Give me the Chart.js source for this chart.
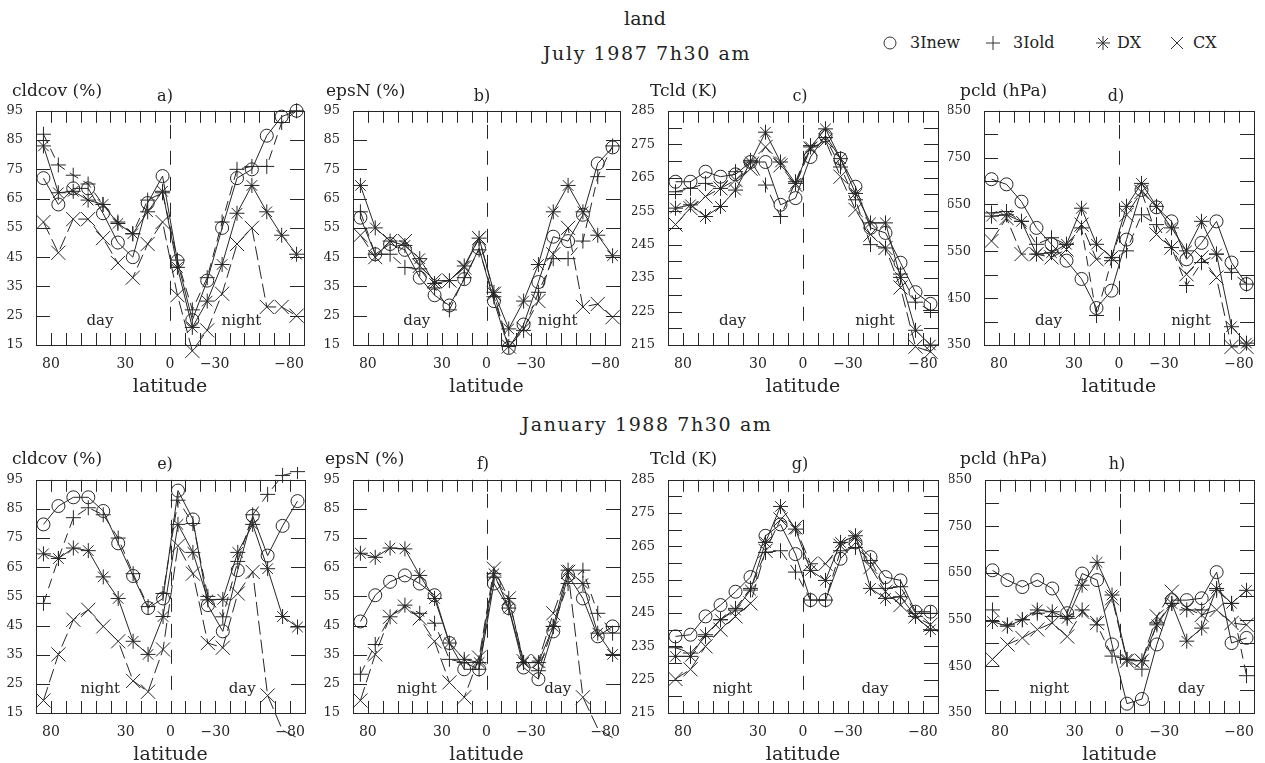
<!DOCTYPE html>
<html><head><meta charset="utf-8">
<script src="https://cdn.jsdelivr.net/npm/chart.js@4.4.0/dist/chart.umd.min.js"></script>
<style>
html,body{margin:0;padding:0;background:#fff;}
body{width:1265px;height:763px;overflow:hidden;position:relative;font-family:'DejaVu Serif',serif;color:#222;}
canvas{position:absolute;}
.t{position:absolute;white-space:nowrap;line-height:1;transform:translateY(-50%);}
.c{transform:translate(-50%,-50%);}
svg.sym{position:absolute;overflow:visible;}
</style></head><body>
<script>
// ---------------- data ----------------
const latitudes = [85,75,65,55,45,35,25,15,5,-5,-15,-25,-35,-45,-55,-65,-75,-85];
const xTickLabels = [80,30,0,-30,-80];
const seriesNames = ['3Inew','3Iold','DX','CX'];
const pctTicks = [15,25,35,45,55,65,75,85,95];
const tempTicks = [215,225,235,245,255,265,275,285];
const presTicks = [350,450,550,650,750,850];

// a) July 1987 cldcov (%)
const a3Inew = [72,63,68.5,68.5,60,50,45,63.5,72.7,43.7,23.5,37,55,72,75,86.5,93,95];
const a3Iold = [87,76.5,73,70,63,57,53,64.5,67,44,27,38,57,75,76,76,91,95];
const aDX    = [83,67,67.5,64.5,63,56.5,53,60.5,67.5,41.5,21,30,42.5,60,69.5,60.5,52.5,46];
const aCX    = [57,46.5,58,58,51.5,43,38,49.5,57,32,13,20,32.5,49.5,55,28,28,25];
// b) July 1987 epsN (%)
const b3Inew = [58.5,46,49.5,47.5,38,32,28.5,37.5,48,30,14,22,36.5,52,50.5,59.5,77,82.5];
const b3Iold = [60.5,46,46,41.5,41,34.5,27,38,47.5,31.5,14.5,20,33,44.5,44.5,50.5,72.5,83];
const bDX    = [69.5,55,50.5,49,44.5,36,37,42,51.5,33,20.5,30,42.5,60.5,69.5,60.5,52.5,45.5];
const bCX    = [52.5,45,50.5,50.5,42,37,37,41.5,51.5,32.5,14.5,20.5,30,46,55,28,29,24.5];
// c) July 1987 Tcld (K)
const c3Inew = [263.8,263.8,266.8,265.3,266,269.7,269.7,256.9,258.9,271.2,277.6,270.7,262.3,250,248.5,239.6,230.8,227.3];
const c3Iold = [260.8,261.8,263.3,261.8,266.8,270.2,262.8,253.4,263.8,274.6,277,268.2,258.4,245,244,236.2,227.8,225.3];
const cDX    = [255.9,256.9,253.4,256.4,261.3,269.7,278.6,269.7,263.3,274.2,279.6,270.7,260.3,251.5,251.5,235.2,219.4,215];
const cCX    = [251,255.9,259.4,261.8,264.3,267.7,274.2,268.7,262.8,273.7,276.1,265.3,255.4,248,244,232.2,214.5,213];
// d) July 1987 pcld (hPa)
const d3Inew = [704,693,656,600,565,530,491,429,466,575,681,644,614,533,568,614,526,480];
const d3Iold = [632,635,614,565,579,565,600,413,530,551,628,607,558,477,526,544,505,480];
const dDX    = [625,628,614,544,547,565,642,565,537,646,695,646,600,551,614,544,389,354];
const dCX    = [572,621,544,544,537,554,607,533,537,628,677,586,558,501,537,494,346,346];
// e) January 1988 cldcov (%)
const e3Inew = [79.7,86,89,89,84.3,73.2,62,51,54.3,91.3,81.4,52,43,64,82.6,69,79.2,87.7];
const e3Iold = [52.6,68,82,85.4,83,75,62.8,51.5,56,88,80,55,48,67,83,90,96.5,97.8];
const eDX    = [69.6,68,71.6,70.7,61.7,54.3,39.6,35.1,48.1,79.7,70.1,53.8,54,70.1,79.7,64.5,48.1,44.5];
const eCX    = [19.3,35.1,47,50.4,44.7,39.6,26,22.3,36.8,72.4,62.8,39,37.4,56,63.4,21,9,6.5];
// f) January 1988 epsN (%)
const f3Inew = [46.4,55.4,60,62.2,59.4,55.4,39,30,30,59.4,51,30.6,26.6,43,62.2,54.3,41.3,44.7];
const f3Iold = [28.3,38.5,48,52,49.2,45.8,33.4,32.3,30,61.6,54.3,32.3,29.5,44.7,59.4,64,49.2,42.4];
const fDX    = [69.8,68.4,71.6,71.3,62.2,54.3,39,33.4,32.3,62.8,51,32.3,32.3,44.7,64,59.4,42.4,35.1];
const fCX    = [19.3,35.1,48,51.5,47.5,39.6,25.5,20.4,34,64.5,54.3,32.8,32.8,49.2,63.4,20.4,9.7,6.5];
// g) January 1988 Tcld (K)
const g3Inew = [238,238.5,244,247.4,251.4,255.8,268.2,271.6,262.7,248.9,248.9,261.3,266.2,261.8,255.8,254.8,245.4,245.4];
const g3Iold = [234.6,233,238,243,246.4,252.4,263.2,263.7,257.3,248.9,248.9,263.7,264.7,260.8,252.4,252.9,244.9,244.9];
const gDX    = [232,232,238.5,243,245.9,251.9,266.2,277,270.2,257.8,254.8,266.2,268.2,252.4,249.4,249.9,244,240];
const gCX    = [225.2,228.1,235,240,244,247.9,263.7,273.1,270.7,259.8,259.8,265.2,267.7,258.8,251.4,247.4,244,241.5];
// h) January 1988 pcld (hPa)
const h3Inew = [656,635,620,635,617,564,649,635,497,370,380,497,592,592,596,652,500,511];
const h3Iold = [571,539,550,564,557,557,571,539,472,465,444,543,585,571,571,613,585,430];
const hDX    = [546,536,550,571,567,553,624,673,603,465,462,539,585,504,532,617,585,613];
const hCX    = [465,497,511,529,543,514,567,543,596,462,462,557,610,575,560,571,543,539];

// ---------------- layout / style ----------------
const FONT = "'DejaVu Serif', serif";
const INK = '#262626';
const styles = [
  {pointStyle:'circle',   pointRadius:6.5, borderDash:[]},
  {pointStyle:'cross',    pointRadius:7.5, borderDash:[10,6]},
  {pointStyle:'star',     pointRadius:7.5, borderDash:[]},
  {pointStyle:'crossRot', pointRadius:10,  borderDash:[14,5]}
];
const kinds = {
  pct:  {ticks:pctTicks,  min:15,  max:95,  step:10},
  temp: {ticks:tempTicks, min:215, max:285, step:5},
  pres: {ticks:presTicks, min:350, max:850, step:50}
};
const panels = [
  {id:'a', ylab:'cldcov (%)', kind:'pct',  L:36,  R:312,  T:108, B:345, series:[a3Inew,a3Iold,aDX,aCX], left:'day', right:'night', labX:12,  letX:165},
  {id:'b', ylab:'epsN (%)',   kind:'pct',  L:353, R:628,  T:108, B:345, series:[b3Inew,b3Iold,bDX,bCX], left:'day', right:'night', labX:326, letX:482},
  {id:'c', ylab:'Tcld (K)',   kind:'temp', L:668, R:946,  T:108, B:345, series:[c3Inew,c3Iold,cDX,cCX], left:'day', right:'night', labX:650, letX:800},
  {id:'d', ylab:'pcld (hPa)', kind:'pres', L:984, R:1262, T:108, B:345, series:[d3Inew,d3Iold,dDX,dCX], left:'day', right:'night', labX:960, letX:1116},
  {id:'e', ylab:'cldcov (%)', kind:'pct',  L:36,  R:313,  T:477, B:713, series:[e3Inew,e3Iold,eDX,eCX], left:'night', right:'day', labX:12,  letX:165},
  {id:'f', ylab:'epsN (%)',   kind:'pct',  L:353, R:628,  T:477, B:713, series:[f3Inew,f3Iold,fDX,fCX], left:'night', right:'day', labX:325, letX:483},
  {id:'g', ylab:'Tcld (K)',   kind:'temp', L:668, R:946,  T:477, B:713, series:[g3Inew,g3Iold,gDX,gCX], left:'night', right:'day', labX:650, letX:800},
  {id:'h', ylab:'pcld (hPa)', kind:'pres', L:985, R:1262, T:477, B:713, series:[h3Inew,h3Iold,hDX,hCX], left:'night', right:'day', labX:960, letX:1117}
];

function addText(txt, x, y, size, center, extra){
  const d = document.createElement('div');
  d.className = 't' + (center ? ' c' : '');
  d.textContent = txt;
  d.style.left = x + 'px'; d.style.top = y + 'px';
  d.style.fontSize = size + 'px';
  if (extra) Object.assign(d.style, extra);
  document.body.appendChild(d);
}

// titles & legend
addText('land', 645, 18, 19, true);
addText('July 1987 7h30 am', 647, 53, 19, true, {letterSpacing:'1.6px'});
addText('January 1988 7h30 am', 647, 424, 19, true, {letterSpacing:'1.6px'});
const symPaths = [
  '<circle cx="0" cy="0" r="6" fill="none"/>',
  '<path d="M-7 0H7M0 -7V7"/>',
  '<path d="M-7 0H7M0 -7V7M-5 -5L5 5M-5 5L5 -5"/>',
  '<path d="M-6 -6L6 6M-6 6L6 -6"/>'
];
const legendItems = [[890,910],[993,1013],[1103,1117],[1177,1193]];
legendItems.forEach((it,i)=>{
  const s = document.createElementNS('http://www.w3.org/2000/svg','svg');
  s.setAttribute('class','sym'); s.setAttribute('width','16'); s.setAttribute('height','16');
  s.setAttribute('viewBox','-8 -8 16 16');
  s.style.left = (it[0]-8)+'px'; s.style.top = (43-8)+'px';
  s.innerHTML = '<g stroke="#333" stroke-width="1" fill="none">'+symPaths[i]+'</g>';
  document.body.appendChild(s);
  addText(seriesNames[i], it[1], 43, 16);
});

const framePlugin = {
  id:'frame',
  beforeDatasetsDraw(chart){
    const {ctx, chartArea:ca, scales:{x,y}} = chart;
    const k = chart.options.plugins.frame;
    ctx.save();
    ctx.strokeStyle = INK; ctx.lineWidth = 1;
    ctx.strokeRect(Math.round(ca.left)+0.5, Math.round(ca.top)+0.5, Math.round(ca.right-ca.left), Math.round(ca.bottom-ca.top));
    ctx.beginPath();
    for (let v=-80; v<=80; v+=10){
      const px = Math.round(x.getPixelForValue(v))+0.5;
      ctx.moveTo(px, ca.bottom); ctx.lineTo(px, ca.bottom-12);
      ctx.moveTo(px, ca.top); ctx.lineTo(px, ca.top+12);
    }
    for (let v=k.min+k.step; v<k.max; v+=k.step){
      const py = Math.round(y.getPixelForValue(v))+0.5;
      ctx.moveTo(ca.left, py); ctx.lineTo(ca.left+14, py);
      ctx.moveTo(ca.right, py); ctx.lineTo(ca.right-14, py);
    }
    ctx.stroke();
    // equator dashed line
    ctx.beginPath();
    ctx.setLineDash([14,12]);
    const p0 = Math.round(x.getPixelForValue(0))+0.5;
    ctx.moveTo(p0, ca.top+14); ctx.lineTo(p0, ca.bottom);
    ctx.stroke();
    ctx.setLineDash([]);
    // day / night labels
    ctx.fillStyle = INK;
    ctx.font = '15px ' + FONT;
    ctx.textAlign = 'center'; ctx.textBaseline = 'middle';
    ctx.fillText(k.leftText, x.getPixelForValue(47), ca.bottom-24);
    ctx.fillText(k.rightText, x.getPixelForValue(-48), ca.bottom-24);
    ctx.restore();
  }
};

panels.forEach(p=>{
  const k = kinds[p.kind];
  const padTop = 10, yW = 36, xH = 56, padR = 3;
  const cv = document.createElement('canvas');
  const W = (p.R-p.L)+yW+padR, H = (p.B-p.T)+padTop+xH;
  cv.width = W; cv.height = H;
  cv.style.left = (p.L-yW)+'px'; cv.style.top = (p.T-padTop)+'px';
  cv.style.width = W+'px'; cv.style.height = H+'px';
  document.body.appendChild(cv);

  const rowY = p.T < 200 ? 90 : 458;
  const letY = p.T < 200 ? 96 : 464;
  addText(p.ylab, p.labX, rowY, 17);
  addText(p.id + ')', p.letX, letY, 16, true);

  const datasets = p.series.map((vals,i)=>({
    label: seriesNames[i],
    data: latitudes.map((lat,j)=>({x:lat, y:vals[j]})),
    borderColor: INK, borderWidth: 1,
    borderDash: styles[i].borderDash,
    pointStyle: styles[i].pointStyle,
    pointRadius: styles[i].pointRadius,
    pointBorderColor: INK, pointBorderWidth: 1,
    pointBackgroundColor: 'rgba(0,0,0,0)',
    fill:false, tension:0, clip:false
  }));

  new Chart(cv.getContext('2d'), {
    type:'line',
    data:{datasets},
    plugins:[framePlugin],
    options:{
      responsive:false, animation:false, devicePixelRatio:1,
      layout:{padding:{left:0,right:padR,top:padTop,bottom:0}},
      plugins:{legend:{display:false}, tooltip:{enabled:false},
        frame:{min:k.min,max:k.max,step:k.step,leftText:p.left,rightText:p.right}},
      scales:{
        x:{type:'linear', min:-90, max:90, reverse:true,
          grid:{display:false}, border:{display:false},
          afterBuildTicks:s=>{ s.ticks = xTickLabels.map(v=>({value:v})); },
          afterFit:s=>{ s.height = xH; },
          ticks:{autoSkip:false, maxRotation:0, padding:3, color:INK,
            font:{family:FONT,size:14},
            callback:v=> v<0 ? '\u2212'+Math.abs(v) : String(v)},
          title:{display:true, text:'latitude', color:INK, font:{family:FONT,size:19}, padding:{top:0,bottom:3}}
        },
        y:{type:'linear', min:k.min, max:k.max,
          grid:{display:false}, border:{display:false},
          afterBuildTicks:s=>{ s.ticks = k.ticks.map(v=>({value:v})); },
          afterFit:s=>{ s.width = yW; },
          ticks:{autoSkip:false, padding:5, color:INK, font:{family:FONT,size:13}}
        }
      }
    }
  });
});
</script>
</body></html>
